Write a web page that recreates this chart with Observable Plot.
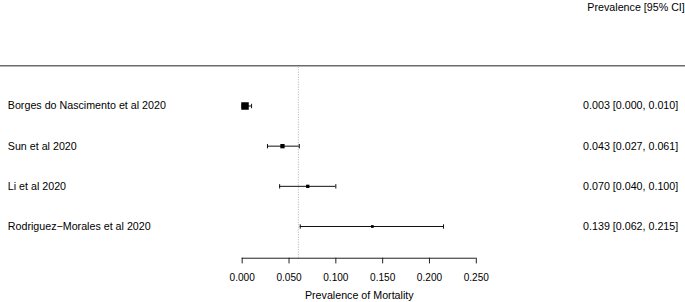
<!DOCTYPE html>
<html>
<head>
<meta charset="utf-8">
<script src="https://cdn.jsdelivr.net/npm/d3@7"></script>
<script src="https://cdn.jsdelivr.net/npm/@observablehq/plot@0.6"></script>
<style>
  html, body { margin: 0; padding: 0; background: #fff; }
  #chart { width: 685px; height: 302px; }
</style>
</head>
<body>
<div id="chart"></div>
<script>
// ---- data ----
const studies = [
  "Borges do Nascimento et al 2020",
  "Sun et al 2020",
  "Li et al 2020",
  "Rodriguez\u2212Morales et al 2020"
];
const estimates = [0.003, 0.043, 0.070, 0.139];
const lower     = [0.000, 0.027, 0.040, 0.062];
const upper     = [0.010, 0.061, 0.100, 0.215];
const weights   = [56, 18.5, 10.9, 7.3];   // relative box area (study weight)
const refValue  = 0.06;                     // dotted reference line
const tickValues = [0, 0.05, 0.10, 0.15, 0.20, 0.25];
const header = "Prevalence [95% CI]";
const xTitle = "Prevalence of Mortality";

// ---- table built from the arrays ----
const k = studies.length;
const rows = studies.map((name, i) => ({
  name,
  row: k - i,
  est: estimates[i],
  lo: lower[i],
  hi: upper[i],
  w: weights[i],
  label: `${estimates[i].toFixed(3)} [${lower[i].toFixed(3)}, ${upper[i].toFixed(3)}]`
}));
const ends = rows.flatMap(d => [{x: d.lo, row: d.row}, {x: d.hi, row: d.row}]);

const xDomain = [tickValues[0], tickValues[tickValues.length - 1]];
const axisRow = 0.21;
const topRow = k + 1;

// custom vertical cap symbol
const capSymbol = {
  draw(ctx, size) {
    const h = Math.sqrt(size / Math.PI);
    ctx.moveTo(0, -h);
    ctx.lineTo(0, h);
  }
};

const font = "'Liberation Sans', Arial, Helvetica, sans-serif";

const chart = Plot.plot({
  width: 685,
  height: 302,
  marginLeft: 0,
  marginRight: 0,
  marginTop: 0,
  marginBottom: 44.3,
  style: {fontFamily: font, background: "#fff", color: "#000"},
  x: {domain: xDomain, range: [241.7, 475.8]},
  y: {domain: [1, k], range: [226, 105.5], axis: null},
  r: {type: "sqrt", domain: [0, d3.max(weights)], range: [0, 4.23]},
  marks: [
    // top separator line
    Plot.ruleY([topRow], {stroke: "#222", strokeWidth: 1}),
    // dotted reference line
    Plot.ruleX([refValue], {y1: axisRow, y2: topRow, stroke: "#b0b0b0", strokeWidth: 1, strokeDasharray: "1,1.5"}),
    // confidence intervals
    Plot.ruleY(rows, {y: "row", x1: "lo", x2: "hi", stroke: "#111", strokeWidth: 1}),
    Plot.dot(ends, {x: "x", y: "row", symbol: capSymbol, r: 2.2, stroke: "#111", strokeWidth: 1, fill: "none"}),
    // point estimates
    Plot.dot(rows, {x: "est", y: "row", r: "w", symbol: "square", fill: "#000", stroke: "none"}),
    // study labels
    Plot.text(rows, {y: "row", text: "name", frameAnchor: "left", textAnchor: "start", dx: 7.3, fontSize: 10.7, fill: "#000"}),
    // estimate text
    Plot.text(rows, {y: "row", text: "label", frameAnchor: "right", textAnchor: "end", dx: -7.3, fontSize: 10.7, fill: "#000"}),
    // header
    Plot.text([header], {frameAnchor: "top-right", textAnchor: "end", lineAnchor: "middle", dx: -0.7, dy: 6.7, fontSize: 10.7, fill: "#000"}),
    // x axis
    Plot.ruleY([axisRow], {x1: xDomain[0], x2: xDomain[1], stroke: "#222", strokeWidth: 1}),
    Plot.axisX(tickValues, {tickFormat: d3.format(".3f"), tickSize: 5.7, tickPadding: 9.7, fontSize: 10.1, label: null, stroke: "#222", fill: "#000"}),
    Plot.text([xTitle], {x: (xDomain[0] + xDomain[1]) / 2, frameAnchor: "bottom", lineAnchor: "middle", dy: 37.3, fontSize: 10.7, fill: "#000"})
  ]
});

document.getElementById("chart").appendChild(chart);
</script>
</body>
</html>
